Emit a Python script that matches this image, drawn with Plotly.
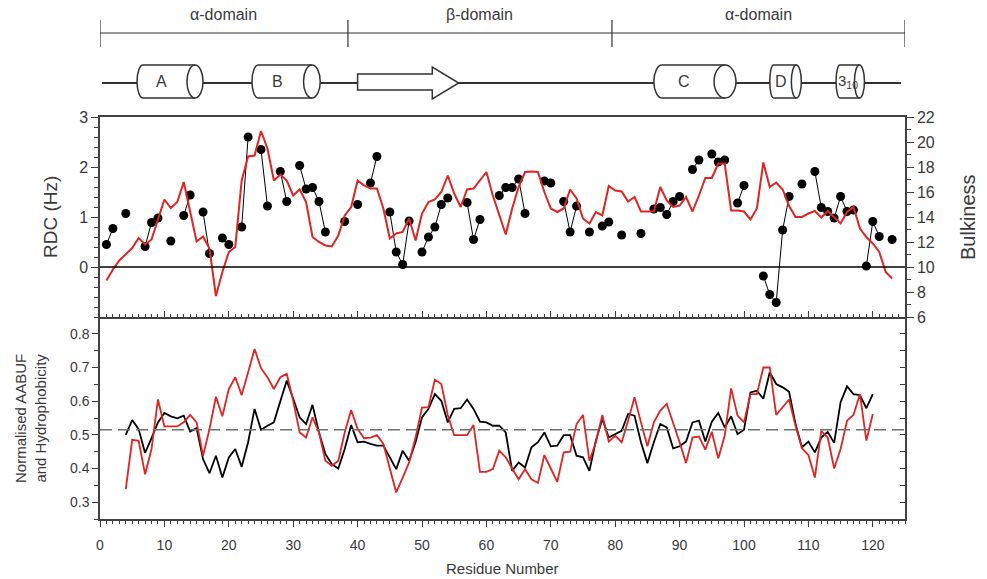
import plotly.graph_objects as go

# ---------------- data ----------------
rdc_residue = [1, 2, 4, 7, 8, 9, 11, 13, 14, 16, 17, 19, 20, 22, 23, 25, 26, 28, 29,
               31, 32, 33, 34, 35, 38, 40, 42, 43, 45, 46, 47, 48, 50, 51, 52, 53, 54,
               57, 58, 59, 62, 63, 64, 65, 66, 69, 70, 72, 73, 74, 76, 78, 79, 81, 84,
               86, 87, 88, 89, 90, 92, 93, 95, 96, 97, 99, 100, 103, 104, 105, 106, 107,
               109, 111, 112, 113, 114, 115, 116, 117, 119, 120, 121, 123]
rdc_value = [0.45, 0.77, 1.07, 0.41, 0.89, 0.98, 0.52, 1.03, 1.44, 1.10, 0.27, 0.58, 0.45,
             0.80, 2.60, 2.35, 1.22, 1.91, 1.31, 2.03, 1.56, 1.59, 1.31, 0.70, 0.91, 1.25,
             1.68, 2.21, 1.10, 0.30, 0.05, 0.92, 0.30, 0.60, 0.80, 1.25, 1.38, 1.29, 0.55,
             0.95, 1.43, 1.59, 1.59, 1.76, 1.07, 1.72, 1.68, 1.31, 0.70, 1.22, 0.70, 0.82,
             0.90, 0.64, 0.67, 1.16, 1.19, 1.05, 1.31, 1.41, 1.95, 2.14, 2.26, 2.10, 2.14,
             1.28, 1.63, -0.18, -0.55, -0.71, 0.74, 1.41, 1.66, 1.91, 1.19, 1.11, 0.98,
             1.41, 1.11, 1.14, 0.02, 0.91, 0.61, 0.55]

bulk_residue = list(range(1, 124))
bulkiness = [8.92, 9.8, 10.52, 11.0, 11.52, 12.32, 11.8, 12.2, 13.8, 15.4,
             14.72, 15.2, 16.8, 14.4, 12.04, 12.44, 11.48, 7.68, 9.6, 11.2,
             11.6, 16.92, 18.84, 18.92, 20.88, 19.48, 16.92, 17.4, 16.92, 15.72,
             16.2, 15.2, 12.4, 12.0, 11.72, 11.64, 12.52, 14.12, 14.8, 16.92,
             16.52, 16.28, 16.28, 14.68, 12.28, 12.68, 12.8, 13.88, 12.12, 14.28,
             15.2, 15.4, 16.0, 17.32, 15.88, 14.8, 16.2, 16.28, 16.92, 17.6,
             15.72, 14.12, 12.6, 14.68, 16.4, 17.6, 17.64, 17.6, 16.0, 14.68,
             14.4, 14.68, 16.2, 15.48, 13.88, 13.48, 14.4, 14.12, 16.48, 16.12,
             16.04, 15.24, 15.6, 14.44, 14.44, 14.44, 16.4, 15.32, 14.8, 14.92,
             15.6, 14.44, 15.72, 17.12, 17.12, 18.28, 18.28, 14.52, 14.52, 14.44,
             13.8, 14.68, 18.36, 16.4, 16.76, 16.2, 14.88, 14.0, 14.0, 14.28,
             14.48, 13.96, 14.48, 14.0, 13.48, 14.4, 14.8, 13.08, 12.4, 11.88,
             11.2, 9.6, 9.08]

profile_residue = list(range(4, 121))
aabuf = [0.500, 0.544, 0.517, 0.446, 0.490, 0.537, 0.565, 0.555, 0.549, 0.557,
         0.510, 0.520, 0.428, 0.386, 0.438, 0.373, 0.433, 0.458, 0.405, 0.478,
         0.577, 0.515, 0.527, 0.537, 0.600, 0.661, 0.607, 0.552, 0.532, 0.589,
         0.507, 0.443, 0.413, 0.400, 0.458, 0.529, 0.478, 0.480, 0.473, 0.468,
         0.468, 0.433, 0.398, 0.453, 0.423, 0.478, 0.552, 0.577, 0.621, 0.601,
         0.537, 0.577, 0.579, 0.605, 0.577, 0.539, 0.537, 0.527, 0.527, 0.507,
         0.393, 0.418, 0.403, 0.463, 0.478, 0.507, 0.466, 0.468, 0.499, 0.499,
         0.438, 0.433, 0.393, 0.483, 0.547, 0.492, 0.502, 0.512, 0.562, 0.557,
         0.478, 0.416, 0.478, 0.532, 0.522, 0.460, 0.466, 0.480, 0.537, 0.542,
         0.480, 0.539, 0.565, 0.522, 0.555, 0.502, 0.515, 0.626, 0.631, 0.607,
         0.686, 0.651, 0.641, 0.628, 0.532, 0.463, 0.480, 0.448, 0.492, 0.509,
         0.476, 0.597, 0.644, 0.621, 0.618, 0.579, 0.621]
hydrophobicity = [0.339, 0.485, 0.482, 0.383, 0.458, 0.605, 0.525, 0.525, 0.525, 0.537,
                  0.559, 0.537, 0.438, 0.517, 0.613, 0.555, 0.636, 0.671, 0.618, 0.686,
                  0.755, 0.698, 0.671, 0.636, 0.671, 0.681, 0.601, 0.507, 0.492, 0.552,
                  0.507, 0.423, 0.408, 0.423, 0.507, 0.574, 0.517, 0.490, 0.492, 0.499,
                  0.473, 0.400, 0.329, 0.373, 0.418, 0.492, 0.581, 0.582, 0.664, 0.651,
                  0.559, 0.499, 0.499, 0.499, 0.529, 0.390, 0.390, 0.398, 0.453, 0.433,
                  0.400, 0.368, 0.398, 0.368, 0.357, 0.440, 0.400, 0.360, 0.448, 0.450,
                  0.532, 0.559, 0.423, 0.478, 0.559, 0.480, 0.497, 0.478, 0.542, 0.612,
                  0.537, 0.466, 0.537, 0.572, 0.592, 0.537, 0.478, 0.416, 0.492, 0.495,
                  0.456, 0.509, 0.430, 0.497, 0.638, 0.557, 0.537, 0.621, 0.621, 0.700,
                  0.700, 0.559, 0.582, 0.605, 0.527, 0.460, 0.440, 0.373, 0.512, 0.492,
                  0.400, 0.458, 0.542, 0.559, 0.621, 0.483, 0.562]
mean_level = 0.515

domain_names = ["\u03b1-domain", "\u03b2-domain", "\u03b1-domain"]
domain_bounds = [0, 38.5, 79.5, 125]

helix_labels = ["A", "B", "C", "D", "3<sub>10</sub>"]
helix_start = [5.75, 23.6, 86.0, 104.0, 114.3]
helix_end = [16.0, 34.2, 98.75, 108.9, 118.7]
strand_start = [40.0]
strand_end = [55.7]
chain_start, chain_end = 0.3, 124.4

# ---------------- styling ----------------
W, H = 987, 579
ML, MR, MT, MB = 100, 82, 117, 60
RED = "#e02424"
AX = "#404040"
TXT = "#3a3a3a"
DIAG = "#333333"
FONT = "Liberation Sans, Arial, sans-serif"
helix_cap = [2.5, 2.6, 3.4, 1.55, 1.55]
head_len = 4.1


def yp(py):
    return (H - MB - py) / (H - MT - MB)


def xp(px):
    return (px - ML) / (W - ML - MR)


SPLIT = yp(317)

# RDC series with gaps between non-consecutive residues
rdc_x, rdc_y = [], []
prev = None
for r, v in zip(rdc_residue, rdc_value):
    if prev is not None and r != prev + 1:
        rdc_x.append(None)
        rdc_y.append(None)
    rdc_x.append(r)
    rdc_y.append(v)
    prev = r

fig = go.Figure()
fig.add_trace(go.Scatter(x=rdc_x, y=rdc_y, xaxis="x2", yaxis="y", mode="lines+markers",
                         connectgaps=False, line=dict(color="black", width=1),
                         marker=dict(color="black", size=9), name="RDC"))
fig.add_trace(go.Scatter(x=bulk_residue, y=bulkiness, xaxis="x2", yaxis="y2", mode="lines",
                         line=dict(color=RED, width=2), name="Bulkiness"))
fig.add_trace(go.Scatter(x=profile_residue, y=aabuf, xaxis="x", yaxis="y3", mode="lines",
                         line=dict(color="black", width=1.8), name="AABUF"))
fig.add_trace(go.Scatter(x=profile_residue, y=hydrophobicity, xaxis="x", yaxis="y3", mode="lines",
                         line=dict(color=RED, width=1.8), name="Hydrophobicity"))
# carrier for the right-hand tick axis of the lower panel (draws nothing)
fig.add_trace(go.Scatter(x=[profile_residue[0]], y=[mean_level], xaxis="x", yaxis="y4",
                         mode="markers", marker=dict(opacity=0, size=1), hoverinfo="skip",
                         showlegend=False))

shapes = []
shapes.append(dict(type="line", xref="x2", yref="y", x0=0, x1=125, y0=0, y1=0,
                   line=dict(color="black", width=1.5)))
shapes.append(dict(type="line", xref="x", yref="y3", x0=0, x1=125, y0=mean_level, y1=mean_level,
                   line=dict(color="#707070", width=1.6, dash="12px,6px")))

# ---- secondary-structure diagram ----
ybb = yp(83)
shapes.append(dict(type="line", xref="x", yref="paper", x0=chain_start, x1=chain_end, y0=ybb, y1=ybb,
                   line=dict(color=DIAG, width=2)))
yt, yb = yp(65), yp(98)
ym = (yt + yb) / 2
ry = (yt - yb) / 2
k = 0.5523
for lab, x0, x1, cap in zip(helix_labels, helix_start, helix_end, helix_cap):
    rx = cap / 2
    rl = rx * 0.75
    outline = (f"M {x0+rl},{yt} L {x1-rx},{yt} "
               f"C {x1-rx+k*rx},{yt} {x1},{ym+k*ry} {x1},{ym} "
               f"C {x1},{ym-k*ry} {x1-rx+k*rx},{yb} {x1-rx},{yb} "
               f"L {x0+rl},{yb} "
               f"C {x0+rl-k*rl},{yb} {x0},{ym-k*ry} {x0},{ym} "
               f"C {x0},{ym+k*ry} {x0+rl-k*rl},{yt} {x0+rl},{yt} Z")
    shapes.append(dict(type="path", xref="x", yref="paper", path=outline, fillcolor="white",
                       line=dict(color=DIAG, width=1.5)))
    inner = (f"M {x1-rx},{yt} C {x1-rx-k*rx},{yt} {x1-2*rx},{ym+k*ry} {x1-2*rx},{ym} "
             f"C {x1-2*rx},{ym-k*ry} {x1-rx-k*rx},{yb} {x1-rx},{yb}")
    shapes.append(dict(type="path", xref="x", yref="paper", path=inner,
                       line=dict(color=DIAG, width=1.5)))

st, sb = yp(74), yp(90)
ht, hb = yp(67), yp(99)
for s0, s1 in zip(strand_start, strand_end):
    hx = s1 - head_len
    arrow = (f"M {s0},{st} L {hx},{st} L {hx},{ht} L {s1},{ybb} L {hx},{hb} "
             f"L {hx},{sb} L {s0},{sb} Z")
    shapes.append(dict(type="path", xref="x", yref="paper", path=arrow, fillcolor="white",
                       line=dict(color=DIAG, width=1.5)))

ydl = yp(33)
shapes.append(dict(type="line", xref="x", yref="paper", x0=domain_bounds[0], x1=domain_bounds[-1],
                   y0=ydl, y1=ydl, line=dict(color=DIAG, width=1.2)))
for b in domain_bounds:
    shapes.append(dict(type="line", xref="x", yref="paper", x0=b, x1=b, y0=yp(20), y1=yp(47),
                       line=dict(color=DIAG, width=1.2)))

annotations = []
for name, a, b in zip(domain_names, domain_bounds[:-1], domain_bounds[1:]):
    annotations.append(dict(x=(a + b) / 2, y=yp(15), xref="x", yref="paper", text=name,
                            showarrow=False, font=dict(size=16, color=TXT),
                            xanchor="center", yanchor="middle"))
for lab, x0, x1, cap in zip(helix_labels, helix_start, helix_end, helix_cap):
    annotations.append(dict(x=(x0 + x1 - cap) / 2 + (0 if len(lab) == 1 else 0.4), y=ym,
                            xref="x", yref="paper", text=lab,
                            showarrow=False, font=dict(size=16 if len(lab) == 1 else 15, color=TXT),
                            xanchor="center", yanchor="middle"))

annotations += [
    dict(x=xp(50), y=yp(217), xref="paper", yref="paper", text="RDC (Hz)", textangle=-90,
         showarrow=False, font=dict(size=19, color=TXT), xanchor="center", yanchor="middle"),
    dict(x=xp(968), y=yp(217), xref="paper", yref="paper", text="Bulkiness", textangle=-90,
         showarrow=False, font=dict(size=20, color=TXT), xanchor="center", yanchor="middle"),
    dict(x=xp(30), y=yp(419), xref="paper", yref="paper",
         text="Normalised AABUF<br>and Hydrophobicity", textangle=-90,
         showarrow=False, font=dict(size=15, color=TXT), xanchor="center", yanchor="middle"),
    dict(x=0.5, y=yp(568), xref="paper", yref="paper", text="Residue Number",
         showarrow=False, font=dict(size=15, color=TXT), xanchor="center", yanchor="middle"),
]

common = dict(showgrid=False, zeroline=False, showline=True, linecolor=AX, linewidth=1.5,
              tickcolor=AX, tickwidth=1.2)

fig.update_layout(
    width=W, height=H,
    margin=dict(l=ML, r=MR, t=MT, b=MB),
    paper_bgcolor="white", plot_bgcolor="white",
    showlegend=False,
    font=dict(family=FONT, color=TXT),
    xaxis=dict(domain=[0, 1], anchor="y3", range=[0, 125], tickmode="linear", tick0=0, dtick=10,
               ticks="outside", ticklen=6, tickfont=dict(size=14, color=TXT), ticklabelstandoff=6,
               minor=dict(dtick=1, ticklen=3, ticks="outside", tickcolor=AX), **common),
    xaxis2=dict(domain=[0, 1], anchor="y", matches="x", range=[0, 125], tickmode="linear", tick0=0,
                dtick=10, ticks="inside", ticklen=6, showticklabels=False, mirror=True,
                minor=dict(dtick=1, ticklen=3, ticks="inside", tickcolor=AX), **common),
    yaxis=dict(domain=[SPLIT, 1], anchor="x2", range=[-1, 3], tickmode="array",
               tickvals=[0, 1, 2, 3], ticks="outside", ticklen=7,
               tickfont=dict(size=16, color=TXT),
               minor=dict(tickmode="linear", tick0=-1, dtick=0.2, ticklen=4, ticks="outside",
                          tickcolor=AX), **common),
    yaxis2=dict(overlaying="y", side="right", anchor="x2", range=[6, 22], tickmode="linear",
                tick0=6, dtick=2, ticks="outside", ticklen=7, tickfont=dict(size=16, color=TXT),
                minor=dict(dtick=1, ticklen=4, ticks="outside", tickcolor=AX), **common),
    yaxis3=dict(domain=[0, SPLIT], anchor="x", range=[0.25, 0.85], tickmode="linear", tick0=0,
                dtick=0.1, ticks="outside", ticklen=6,
                tickfont=dict(size=14, color=TXT),
                minor=dict(dtick=0.05, ticklen=4, ticks="outside", tickcolor=AX), **common),
    yaxis4=dict(overlaying="y3", side="right", anchor="x", range=[0.25, 0.85], tickmode="linear",
                tick0=0, dtick=0.05, ticks="inside", ticklen=5, showticklabels=False, **common),
    shapes=shapes,
    annotations=annotations,
)

fig.write_html("out.html", config={"displayModeBar": False},
               post_script="document.body.style.margin='0';document.body.style.overflow='hidden';")
